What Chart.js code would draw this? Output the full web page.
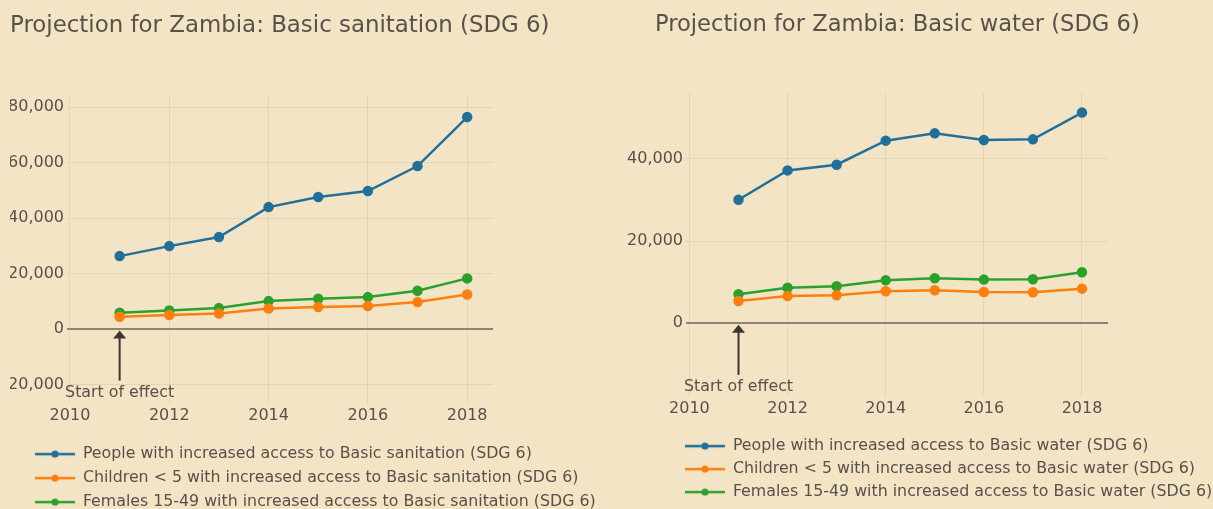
<!DOCTYPE html>
<html>
<head>
<meta charset="utf-8">
<script src="https://cdn.jsdelivr.net/npm/chart.js@4.4.0/dist/chart.umd.min.js"></script>
<style>
  html, body { margin: 0; padding: 0; background: #f3e4c6; overflow: hidden; }
  body { width: 1213px; height: 509px; position: relative; }
  canvas { position: absolute; top: 0; }
  #chartSan { left: 10px; }
  #chartWat { left: 612px; }
</style>
</head>
<body>
<canvas id="chartSan" width="588" height="520"></canvas>
<canvas id="chartWat" width="601" height="510"></canvas>
<script>
const years = [2011, 2012, 2013, 2014, 2015, 2016, 2017, 2018];
const yearTicks = [2010, 2012, 2014, 2016, 2018];

// Basic sanitation
const sanPeople = [26300, 29900, 33150, 43960, 47570, 49730, 58740, 76400];
const sanChildren = [4430, 5050, 5650, 7450, 7930, 8290, 9730, 12500];
const sanFemales = [5880, 6740, 7570, 10090, 10920, 11530, 13800, 18270];
const sanYTicks = [-20000, 0, 20000, 40000, 60000, 80000];

// Basic water
const watPeople = [30070, 37220, 38600, 44460, 46240, 44630, 44780, 51290];
const watChildren = [5440, 6660, 6830, 7800, 8050, 7630, 7560, 8440];
const watFemales = [7070, 8680, 9020, 10490, 10980, 10640, 10730, 12440];
const watYTicks = [0, 20000, 40000];

const seriesColors = ['#21709a', '#ff7f0e', '#2ca02c'];
const textColor = '#57514a';
const gridColor = '#e6d5b4';
const zeroColor = '#8e8475';
const fontFamily = 'DejaVu Sans, Verdana, sans-serif';

// legend symbol: short line with a dot, like the plotly legend
function legendSymbol(color) {
  const c = document.createElement('canvas');
  c.width = 40;
  c.height = 10;
  const g = c.getContext('2d');
  g.strokeStyle = color;
  g.lineWidth = 2.5;
  g.beginPath();
  g.moveTo(0, 5);
  g.lineTo(40, 5);
  g.stroke();
  g.fillStyle = color;
  g.beginPath();
  g.arc(20, 5, 3.6, 0, Math.PI * 2);
  g.fill();
  return c;
}
const symbols = seriesColors.map(legendSymbol);

// "Start of effect" arrow pointing at (2011, 0)
const startArrow = {
  id: 'startArrow',
  afterDatasetsDraw(chart) {
    const ctx = chart.ctx;
    const x = chart.scales.x.getPixelForValue(2011);
    const y0 = chart.scales.y.getPixelForValue(0);
    const tip = y0 + 1.5;
    const tail = y0 + 51.5;
    ctx.save();
    ctx.strokeStyle = '#3b3631';
    ctx.fillStyle = '#3b3631';
    ctx.lineWidth = 2;
    ctx.beginPath();
    ctx.moveTo(x, tail);
    ctx.lineTo(x, tip + 6);
    ctx.stroke();
    ctx.beginPath();
    ctx.moveTo(x, tip);
    ctx.lineTo(x - 6.5, tip + 8);
    ctx.lineTo(x + 6.5, tip + 8);
    ctx.closePath();
    ctx.fill();
    ctx.fillStyle = textColor;
    ctx.font = '15.8px ' + fontFamily;
    ctx.textAlign = 'center';
    ctx.textBaseline = 'middle';
    ctx.fillText('Start of effect', x, tail + 12);
    ctx.restore();
  }
};

// move title and legend sideways after layout, and let them use the full canvas width
const shiftBoxes = {
  id: 'shiftBoxes',
  afterLayout(chart, args, opts) {
    chart.titleBlock.left += opts.title || 0;
    chart.titleBlock.right = chart.width;
    chart.legend.left += opts.legend || 0;
    chart.legend.right = chart.width;
  }
};

function makeChart(id, cfg) {
  const datasets = [
    { label: cfg.labels[0], data: cfg.people },
    { label: cfg.labels[1], data: cfg.children },
    { label: cfg.labels[2], data: cfg.females }
  ].map((d, i) => ({
    label: d.label,
    data: years.map((yr, j) => ({ x: yr, y: d.data[j] })),
    borderColor: seriesColors[i],
    backgroundColor: seriesColors[i],
    borderWidth: 2.5,
    pointRadius: 4,
    pointHoverRadius: 5,
    tension: 0
  }));

  return new Chart(document.getElementById(id), {
    type: 'line',
    data: { datasets: datasets },
    plugins: [startArrow, shiftBoxes],
    options: {
      responsive: false,
      animation: false,
      layout: { padding: { right: 105 } },
      scales: {
        x: {
          type: 'linear',
          min: cfg.xMin,
          max: cfg.xMax,
          afterBuildTicks(axis) { axis.ticks = yearTicks.map(v => ({ value: v })); },
          afterFit(axis) { axis.height = 34; },
          border: { display: false },
          grid: { color: gridColor, lineWidth: 1, drawTicks: false },
          ticks: {
            padding: 2.5,
            color: textColor,
            font: { family: fontFamily, size: 16 },
            callback: v => String(v)
          }
        },
        y: {
          min: cfg.yMin,
          max: cfg.yMax,
          afterBuildTicks(axis) { axis.ticks = cfg.yTicks.map(v => ({ value: v })); },
          afterFit(axis) { axis.width = cfg.yWidth; },
          border: { display: false },
          grid: {
            drawTicks: false,
            color: c => c.tick && c.tick.value === 0 ? zeroColor : gridColor,
            lineWidth: c => c.tick && c.tick.value === 0 ? 2 : 1
          },
          ticks: {
            padding: 3,
            color: textColor,
            font: { family: fontFamily, size: 16 },
            callback: v => v.toLocaleString('en-US')
          }
        }
      },
      plugins: {
        title: {
          display: true,
          text: cfg.title,
          align: 'start',
          color: textColor,
          font: { family: fontFamily, size: cfg.titleSize, weight: 'normal', lineHeight: 1.2 },
          padding: { top: 12, bottom: cfg.titleGap }
        },
        legend: {
          position: 'bottom',
          align: 'start',
          labels: {
            usePointStyle: true,
            pointStyleWidth: 40,
            padding: cfg.legendPad,
            color: textColor,
            font: { family: fontFamily, size: 15.8 },
            generateLabels(chart) {
              return Chart.defaults.plugins.legend.labels.generateLabels(chart)
                .map((item, i) => Object.assign(item, { pointStyle: symbols[i] }));
            }
          }
        },
        tooltip: { enabled: true },
        shiftBoxes: { title: cfg.titleShift, legend: cfg.legendShift }
      }
    }
  });
}

makeChart('chartSan', {
  title: 'Projection for Zambia: Basic sanitation (SDG 6)',
  labels: [
    'People with increased access to Basic sanitation (SDG 6)',
    'Children < 5 with increased access to Basic sanitation (SDG 6)',
    'Females 15-49 with increased access to Basic sanitation (SDG 6)'
  ],
  people: sanPeople,
  children: sanChildren,
  females: sanFemales,
  yTicks: sanYTicks,
  xMin: 2009.94, xMax: 2018.52,
  yMin: -26980, yMax: 83810,
  yWidth: 57,
  titleSize: 22.9,
  titleGap: 57,
  titleShift: 0,
  legendPad: 8.2,
  legendShift: 16.8
});

makeChart('chartWat', {
  title: 'Projection for Zambia: Basic water (SDG 6)',
  labels: [
    'People with increased access to Basic water (SDG 6)',
    'Children < 5 with increased access to Basic water (SDG 6)',
    'Females 15-49 with increased access to Basic water (SDG 6)'
  ],
  people: watPeople,
  children: watChildren,
  females: watFemales,
  yTicks: watYTicks,
  xMin: 2009.93, xMax: 2018.53,
  yMin: -17930, yMax: 56030,
  yWidth: 74,
  titleSize: 22.6,
  titleGap: 54,
  titleShift: 43,
  legendPad: 7.2,
  legendShift: 65.8
});
</script>
</body>
</html>
